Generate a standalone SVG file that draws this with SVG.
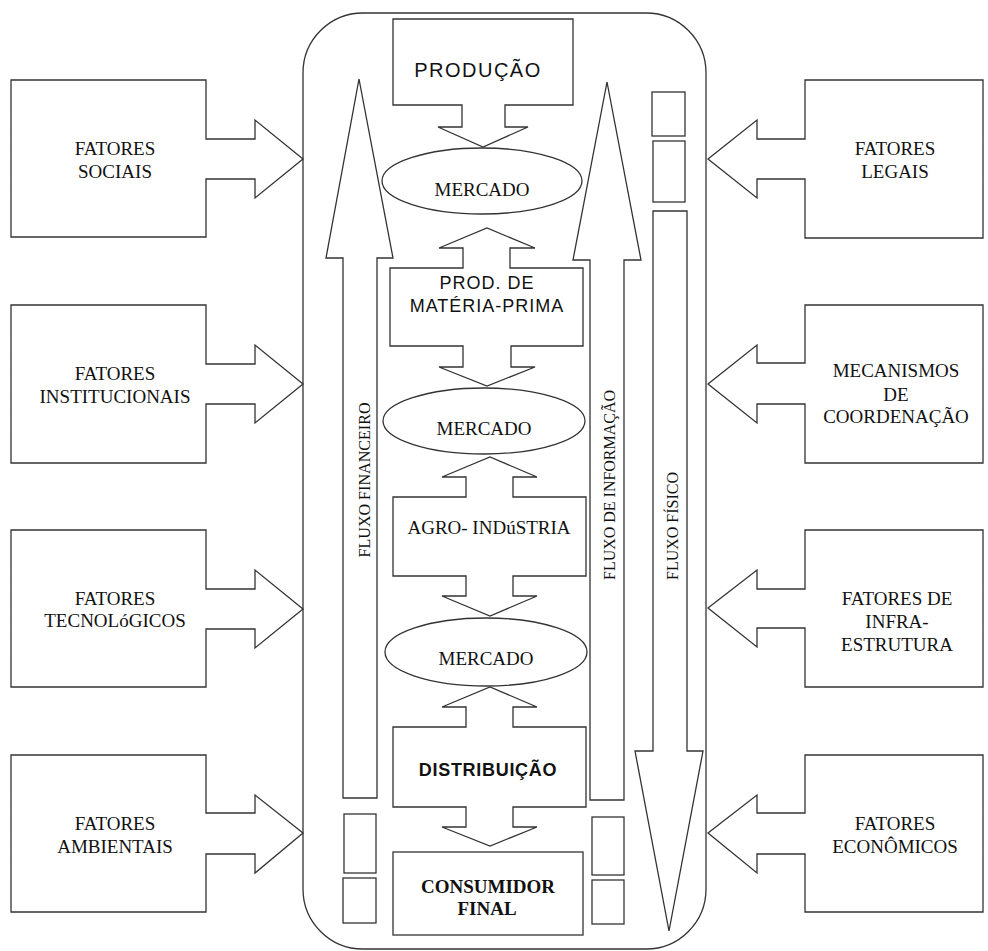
<svg xmlns="http://www.w3.org/2000/svg" width="988" height="951" viewBox="0 0 988 951">
<style>
.s{fill:none;stroke:#333;stroke-width:1.3;stroke-linejoin:miter}
.f{font-family:"Liberation Serif","Times New Roman",serif;font-size:19px;fill:#111;text-anchor:middle}
.a{font-family:"Liberation Sans",Arial,sans-serif;fill:#111;text-anchor:middle}
.v{font-family:"Liberation Serif","Times New Roman",serif;font-size:16px;fill:#111;text-anchor:middle}
</style>
<rect width="988" height="951" fill="#fff"/>
<rect id="chain" class="s" x="303" y="13" width="403" height="936" rx="60" ry="60"/>

<g id="f-sociais"><polygon class="s" points="11,80 206,80 206,139 255,139 255,120 303,159 255,198 255,179 206,179 206,237 11,237"/>
<text class="f" x="115" y="155">FATORES</text><text class="f" x="115" y="178">SOCIAIS</text></g>
<g id="f-institucionais"><polygon class="s" points="11,305 206,305 206,364 255,364 255,345 303,384 255,423 255,404 206,404 206,463 11,463"/>
<text class="f" x="115" y="380">FATORES</text><text class="f" x="115" y="403">INSTITUCIONAIS</text></g>
<g id="f-tecnologicos"><polygon class="s" points="11,530 206,530 206,589 255,589 255,570 303,609 255,648 255,629 206,629 206,687 11,687"/>
<text class="f" x="115" y="605">FATORES</text><text class="f" x="115" y="627">TECNOLóGICOS</text></g>
<g id="f-ambientais"><polygon class="s" points="11,755 206,755 206,813 255,813 255,795 303,833 255,873 255,854 206,854 206,912 11,912"/>
<text class="f" x="115" y="830">FATORES</text><text class="f" x="115" y="853">AMBIENTAIS</text></g>

<g id="f-legais"><polygon class="s" points="983,80 805,80 805,139 757,139 757,120 708,159 757,198 757,179 805,179 805,238 983,238"/>
<text class="f" x="895" y="155">FATORES</text><text class="f" x="895" y="178">LEGAIS</text></g>
<g id="f-coordenacao"><polygon class="s" points="983,305 805,305 805,363 757,363 757,345 708,384 757,423 757,404 805,404 805,463 983,463"/>
<text class="f" x="896" y="377">MECANISMOS</text><text class="f" x="896" y="401">DE</text><text class="f" x="896" y="423">COORDENAÇÃO</text></g>
<g id="f-infra"><polygon class="s" points="983,530 805,530 805,589 757,589 757,570 708,608 757,647 757,628 805,628 805,687 983,687"/>
<text class="f" x="897" y="605">FATORES DE</text><text class="f" x="897" y="628">INFRA-</text><text class="f" x="897" y="651">ESTRUTURA</text></g>
<g id="f-economicos"><polygon class="s" points="983,755 805,755 805,813 757,813 757,795 708,833 757,873 757,854 805,854 805,912 983,912"/>
<text class="f" x="895" y="830">FATORES</text><text class="f" x="895" y="853">ECONÔMICOS</text></g>

<g id="connectors">
<g id="fluxo-financeiro"><polygon class="s" points="359,79 393,258 377,258 377,798 343,798 343,258 326,258"/>
<text class="v" transform="translate(370,480) rotate(-90)" textLength="155" lengthAdjust="spacingAndGlyphs">FLUXO FINANCEIRO</text></g>
<g id="fluxo-informacao"><polygon class="s" points="607,82 641,260 624,260 624,800 590,800 590,260 573,260"/>
<text class="v" transform="translate(615,485) rotate(-90)" textLength="190" lengthAdjust="spacingAndGlyphs">FLUXO DE INFORMAÇÃO</text></g>
<g id="fluxo-fisico"><polygon class="s" points="653,211 687,211 687,751 703,751 669,931 635,751 653,751"/>
<text class="v" transform="translate(678,526) rotate(-90)" textLength="108" lengthAdjust="spacingAndGlyphs">FLUXO FÍSICO</text></g>
</g>

<g id="producao"><polygon class="s" points="393,19 573,19 573,105 505,105 505,127 528,127 483,147 438,127 462,127 462,105 393,105"/>
<text class="a" x="478" y="77" font-size="20" letter-spacing="1.5">PRODUÇÃO</text></g>
<g id="mercado1"><ellipse class="s" cx="482" cy="181" rx="100" ry="33"/><text class="f" x="482" y="196">MERCADO</text></g>
<g id="materia-prima"><polygon class="s" points="390,268 463,268 463,248 439,248 487,228 535,248 510,248 510,268 583,268 583,346 511,346 511,367 535,367 487,386 439,367 463,367 463,346 390,346"/>
<text class="a" x="487" y="289" font-size="18" letter-spacing="1">PROD. DE</text><text class="a" x="487" y="312" font-size="18" letter-spacing="1">MATÉRIA-PRIMA</text></g>
<g id="mercado2"><ellipse class="s" cx="484" cy="421" rx="101" ry="33"/><text class="f" x="484" y="435">MERCADO</text></g>
<g id="agroindustria"><polygon class="s" points="393,497 466,497 466,477 442,477 490,457 537,477 513,477 513,497 586,497 586,576 513,576 513,596 537,596 490,616 442,596 466,596 466,576 393,576"/>
<text class="f" x="489" y="534" font-size="18">AGRO- INDúSTRIA</text></g>
<g id="mercado3"><ellipse class="s" cx="486" cy="652" rx="101" ry="34"/><text class="f" x="486" y="665">MERCADO</text></g>
<g id="distribuicao"><polygon class="s" points="393,727 466,727 466,707 442,707 490,687 537,707 513,707 513,727 586,727 586,807 513,807 513,827 537,827 490,846 442,827 466,827 466,807 393,807"/>
<text class="a" x="488" y="776" font-size="18" font-weight="bold" letter-spacing="0.7">DISTRIBUIÇÃO</text></g>
<g id="consumidor"><rect class="s" x="393" y="852" width="190" height="83"/>
<text class="f" x="488" y="893" font-size="20" font-weight="bold">CONSUMIDOR</text><text class="f" x="487" y="915" font-size="20" font-weight="bold">FINAL</text></g>

<g id="small-boxes">
<rect class="s" x="652" y="92" width="33" height="44"/>
<rect class="s" x="653" y="141" width="32" height="61"/>
<rect class="s" x="344" y="814" width="32" height="59"/>
<rect class="s" x="343" y="878" width="33" height="45"/>
<rect class="s" x="592" y="817" width="32" height="58"/>
<rect class="s" x="592" y="880" width="32" height="44"/>
</g>
</svg>
